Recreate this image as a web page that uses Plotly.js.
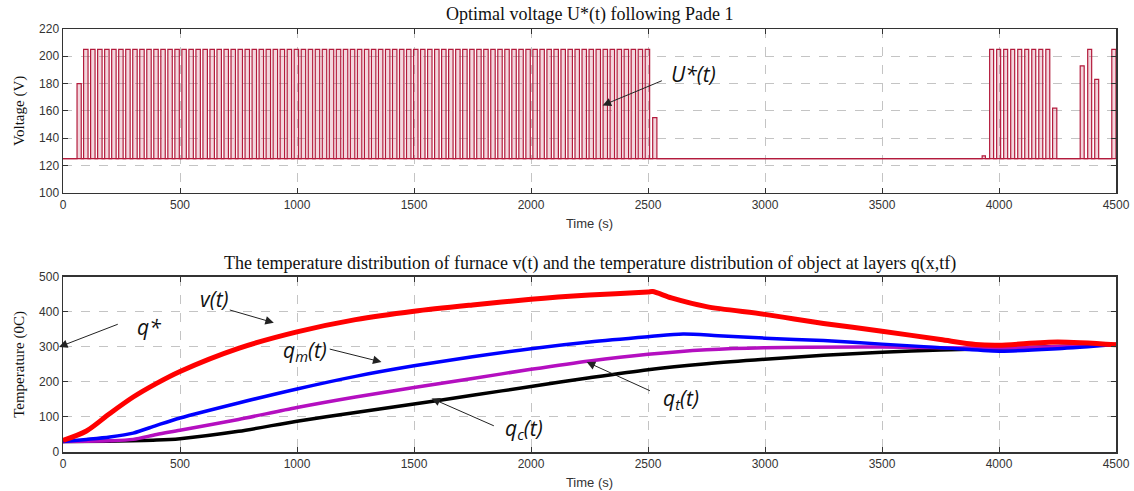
<!DOCTYPE html>
<html>
<head>
<meta charset="utf-8">
<script src="https://cdn.plot.ly/plotly-3.0.1.min.js"></script>
<style>
html,body{margin:0;padding:0;background:#fff;}
#chart{width:1134px;height:491px;}
</style>
</head>
<body>
<div id="chart"></div>
<script>
// ---------- Top chart: optimal voltage pulses ----------
const uBase = 125;
const uOn = [60,
  88,118,148,178,208,238,268,298,328,358,388,418,448,478,508,538,568,598,628,658,
  688,718,748,778,808,838,868,898,928,958,988,1018,1048,1078,1108,1138,1168,1198,1228,1258,
  1288,1318,1348,1378,1408,1438,1468,1498,1528,1558,1588,1618,1648,1678,1708,1738,1768,1798,1828,1858,
  1888,1918,1948,1978,2008,2038,2068,2098,2128,2158,2188,2218,2248,2278,2308,2338,2368,2398,2428,2458,2488,
  2520,3928,
  3960,3990,4020,4050,4080,4110,4140,4170,4200,
  4229,4347,4379,4409,4482];
const uOff = [78,
  107,137,167,197,227,257,287,317,347,377,407,437,467,497,527,557,587,617,647,677,
  707,737,767,797,827,857,887,917,947,977,1007,1037,1067,1097,1127,1157,1187,1217,1247,1277,
  1307,1337,1367,1397,1427,1457,1487,1517,1547,1577,1607,1637,1667,1697,1727,1757,1787,1817,1847,1877,
  1907,1937,1967,1997,2027,2057,2087,2117,2147,2177,2207,2237,2267,2297,2327,2357,2387,2417,2447,2477,2507,
  2538,3942,
  3977,4007,4037,4067,4097,4127,4157,4187,4217,
  4247,4364,4396,4426,4500];
const uLevel = [180,
  205,205,205,205,205,205,205,205,205,205,205,205,205,205,205,205,205,205,205,205,
  205,205,205,205,205,205,205,205,205,205,205,205,205,205,205,205,205,205,205,205,
  205,205,205,205,205,205,205,205,205,205,205,205,205,205,205,205,205,205,205,205,
  205,205,205,205,205,205,205,205,205,205,205,205,205,205,205,205,205,205,205,205,205,
  155,127,
  205,205,205,205,205,205,205,205,205,
  162,193,205,183,205];

// ---------- Bottom chart: temperatures ----------
const tV = [0,100,200,300,400,500,750,1000,1250,1500,1750,2000,2250,2500,2520,2600,2750,3000,3250,3500,3750,3900,4000,4250,4500];
const vT = [33,60,110,157,196,230,296,343,378,402,420,436,448,457,458,440,415,393,367,345,321,307,305,314,306];

const tQ = [0,100,200,300,400,500,750,1000,1250,1500,1750,2000,2250,2500,2650,2800,3000,3250,3500,3750,4000,4250,4500];
const qm = [30,36,43,54,76,97,140,180,216,246,272,295,314,329,337,332,325,318,308,298,288,295,307];

const tQt = [0,200,300,400,500,750,1000,1250,1500,1750,2000,2250,2500,2750,3000,3500,4000,4500];
const qt = [30,32,36,50,62,93,127,157,184,210,236,260,279,292,298,300,297,306];

const tQc = [0,200,400,500,750,1000,1250,1500,1750,2000,2250,2500,2750,3000,3250,3500,3750,4000,4250,4500];
const qc = [30,31,34,38,59,88,113,137,162,187,212,235,252,265,276,285,291,296,301,307];

const xTicks = [0,500,1000,1500,2000,2500,3000,3500,4000,4500];
const yTicksTop = [100,120,140,160,180,200,220];
const yTicksBot = [0,100,200,300,400,500];

// build step series for the voltage
const ux = [0], uy = [uBase];
for (let i = 0; i < uOn.length; i++) {
  ux.push(uOn[i], uOn[i], uOff[i], uOff[i]);
  uy.push(uBase, uLevel[i], uLevel[i], uBase);
}
if (ux[ux.length-1] < 4500) { ux.push(4500); uy.push(uBase); }

const tickFont = {family: 'Liberation Sans, Arial, sans-serif', size: 12, color: '#333'};
const serif = 'Liberation Serif, Times New Roman, serif';
const sans = 'Liberation Sans, Arial, sans-serif';
const annFont = {family: 'Open Sans, Noto Sans, sans-serif', size: 21, color: '#111'};

function xAxis(anchor) {
  return {
    anchor: anchor, range: [0, 4500], tickvals: xTicks, ticks: 'inside', ticklen: 5,
    tickcolor: '#333', showline: true, mirror: 'ticks', linecolor: '#333', linewidth: 1.5,
    showgrid: true, gridcolor: '#c4c4c4', griddash: 'dash', gridwidth: 1, zeroline: false,
    tickfont: tickFont,
    title: {text: 'Time (s)', font: {family: sans, size: 13, color: '#333'}, standoff: 8}
  };
}
function yAxis(anchor, dom, range, vals, title) {
  return {
    anchor: anchor, domain: dom, range: range, tickvals: vals, ticks: 'inside', ticklen: 5,
    tickcolor: '#333', showline: true, mirror: 'ticks', linecolor: '#333', linewidth: 1.5,
    showgrid: true, gridcolor: '#c4c4c4', griddash: 'dash', gridwidth: 1, zeroline: false,
    tickfont: tickFont,
    title: {text: title, font: {family: serif, size: 15, color: '#111'}, standoff: 11}
  };
}

const traces = [
  {x: [0, 4500], y: [uBase, uBase], xaxis: 'x', yaxis: 'y', mode: 'lines', line: {color: '#b31b3c', width: 1.2}, hoverinfo: 'skip'},
  {x: ux, y: uy, xaxis: 'x', yaxis: 'y', mode: 'lines', line: {color: '#b31b3c', width: 1.2},
   fill: 'tonexty', fillcolor: 'rgba(200,70,100,0.22)', hoverinfo: 'skip'},
  {x: tQc, y: qc, xaxis: 'x2', yaxis: 'y2', mode: 'lines', line: {color: '#000000', width: 3.5, shape: 'spline', smoothing: 0.8}},
  {x: tQt, y: qt, xaxis: 'x2', yaxis: 'y2', mode: 'lines', line: {color: '#b40fc0', width: 3.5, shape: 'spline', smoothing: 0.8}},
  {x: tQ, y: qm, xaxis: 'x2', yaxis: 'y2', mode: 'lines', line: {color: '#0000ff', width: 3.5, shape: 'spline', smoothing: 0.8}},
  {x: tV, y: vT, xaxis: 'x2', yaxis: 'y2', mode: 'lines', line: {color: '#ff0000', width: 5, shape: 'spline', smoothing: 0.8}}
];

function arrow(xr, yr, x, y, ax, ay, xshift) {
  return {xref: xr, yref: yr, axref: xr, ayref: yr, x: x, y: y, ax: ax, ay: ay, text: ' ',
    showarrow: true, arrowhead: 2, arrowsize: 1.7, arrowwidth: 1, arrowcolor: '#222', xshift: xshift || 0};
}
function label(xr, yr, x, y, txt) {
  return {xref: xr, yref: yr, x: x, y: y, text: txt, showarrow: false, font: annFont};
}

const annotations = [
  label('x', 'y', 2696, 187, '<i>U*(t)</i>'),
  arrow('x', 'y', 2306, 164, 2572, 183),
  label('x2', 'y2', 649, 436, '<i>v(t)</i>'),
  arrow('x2', 'y2', 901, 369, 700, 408),
  label('x2', 'y2', 367, 356, '<i>q*</i>'),
  arrow('x2', 'y2', 0, 300, 264, 368, -4),
  label('x2', 'y2', 1033, 288, '<i>q<sub>m</sub>(t)</i>'),
  arrow('x2', 'y2', 1361, 257, 1127, 296),
  label('x2', 'y2', 2641, 151, '<i>q<sub>t</sub>(t)</i>'),
  arrow('x2', 'y2', 2238, 257, 2521, 171),
  label('x2', 'y2', 1970, 65, '<i>q<sub>c</sub>(t)</i>'),
  arrow('x2', 'y2', 1575, 153, 1854, 71),
  {xref: 'paper', yref: 'paper', x: 0.5, y: 1.0, yshift: 2, yanchor: 'bottom', showarrow: false,
   text: 'Optimal voltage U*(t) following Pade 1', font: {family: serif, size: 18, color: '#111'}},
  {xref: 'paper', yref: 'paper', x: 0.5, y: 0.414, yshift: 1, yanchor: 'bottom', showarrow: false,
   text: 'The temperature distribution of furnace v(t) and the temperature distribution of object at layers q(x,tf)',
   font: {family: serif, size: 18, color: '#111'}}
];

const layout = {
  width: 1134, height: 491,
  margin: {l: 63, r: 18, t: 29, b: 39},
  paper_bgcolor: '#fff', plot_bgcolor: '#fff',
  showlegend: false,
  xaxis: xAxis('y'),
  yaxis: yAxis('x', [0.613, 1.0], [100, 220], yTicksTop, 'Voltage (V)'),
  xaxis2: xAxis('y2'),
  yaxis2: yAxis('x2', [0, 0.414], [0, 500], yTicksBot, 'Temperature (0C)'),
  annotations: annotations
};

Plotly.newPlot('chart', traces, layout, {displayModeBar: false, staticPlot: true});
</script>
</body>
</html>
